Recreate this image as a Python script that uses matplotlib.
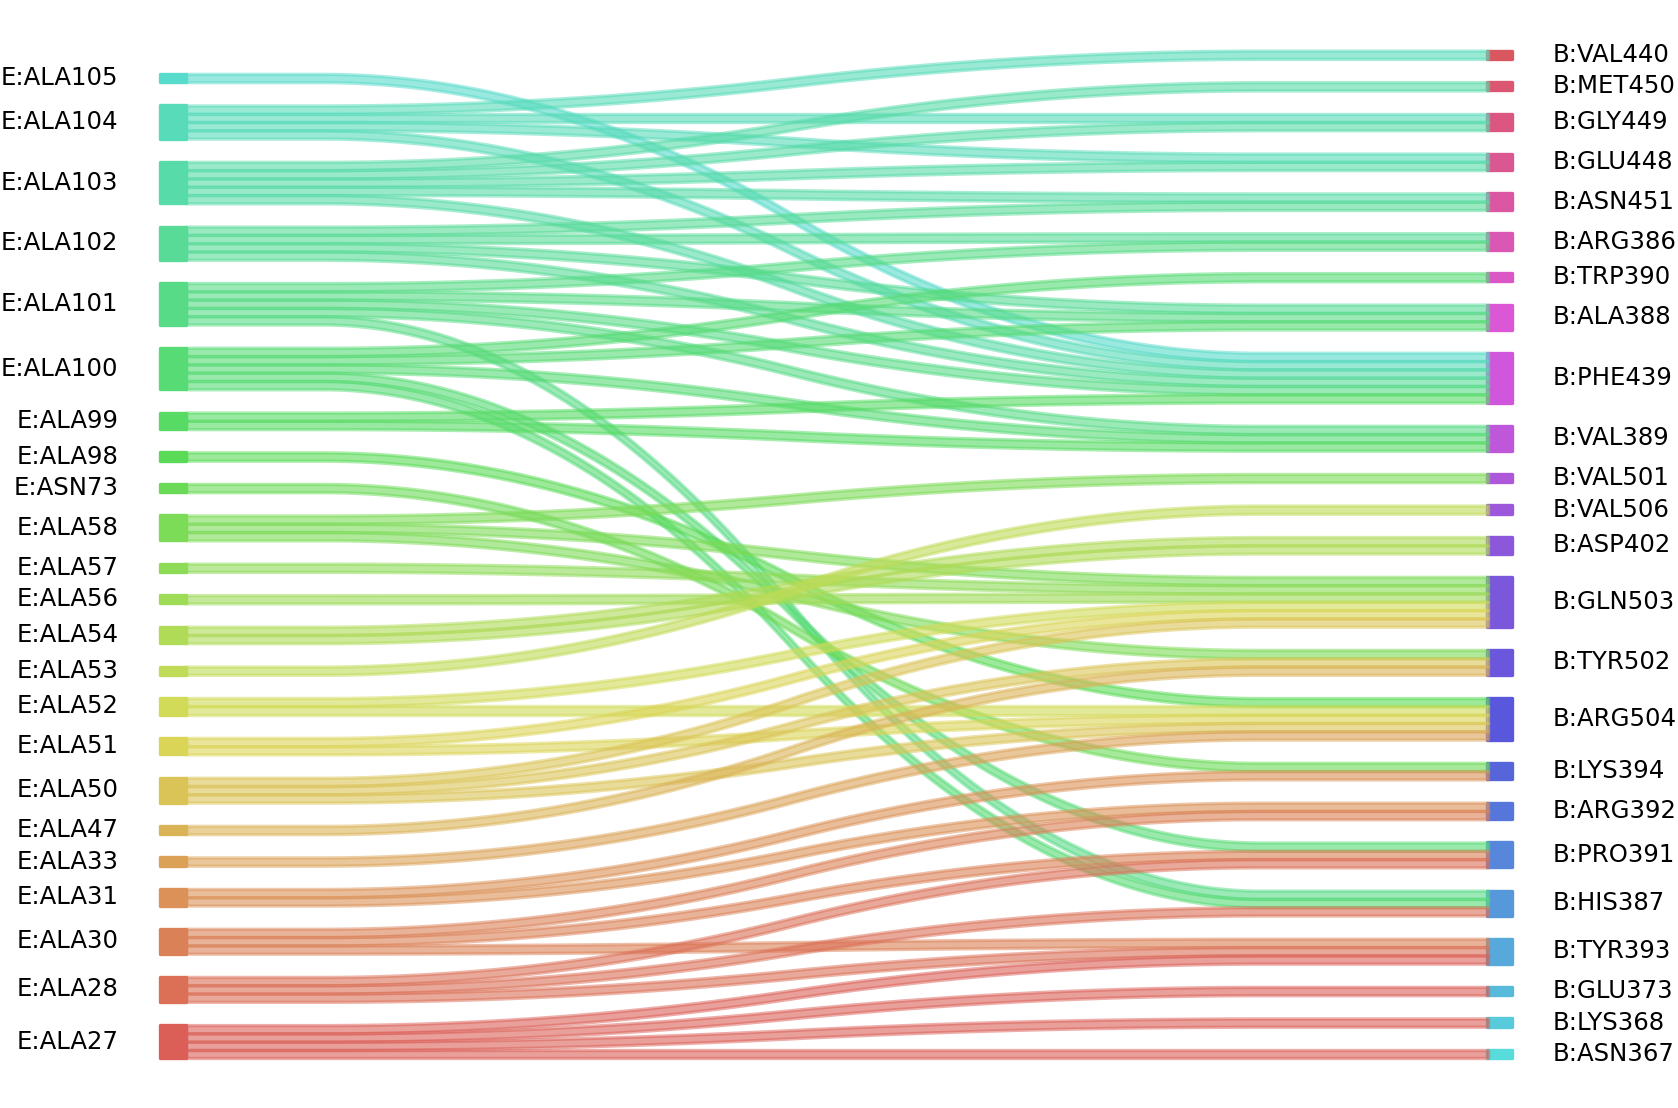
import colorsys

import numpy as np
import matplotlib
matplotlib.use("Agg")
import matplotlib.pyplot as plt
from matplotlib.patches import Rectangle

# residues of chain E (left) and chain B (right), top to bottom
left_labels = [
    "E:ALA105", "E:ALA104", "E:ALA103", "E:ALA102", "E:ALA101", "E:ALA100",
    "E:ALA99", "E:ALA98", "E:ASN73", "E:ALA58", "E:ALA57", "E:ALA56",
    "E:ALA54", "E:ALA53", "E:ALA52", "E:ALA51", "E:ALA50", "E:ALA47",
    "E:ALA33", "E:ALA31", "E:ALA30", "E:ALA28", "E:ALA27",
]
right_labels = [
    "B:VAL440", "B:MET450", "B:GLY449", "B:GLU448", "B:ASN451", "B:ARG386",
    "B:TRP390", "B:ALA388", "B:PHE439", "B:VAL389", "B:VAL501", "B:VAL506",
    "B:ASP402", "B:GLN503", "B:TYR502", "B:ARG504", "B:LYS394", "B:ARG392",
    "B:PRO391", "B:HIS387", "B:TYR393", "B:GLU373", "B:LYS368", "B:ASN367",
]

# contacts, one unit each
contacts = {
    "E:ALA105": ["B:PHE439"],
    "E:ALA104": ["B:VAL440", "B:GLY449", "B:GLU448", "B:PHE439"],
    "E:ALA103": ["B:MET450", "B:GLY449", "B:GLU448", "B:ASN451", "B:PHE439"],
    "E:ALA102": ["B:ASN451", "B:ARG386", "B:ALA388", "B:PHE439"],
    "E:ALA101": ["B:ARG386", "B:ALA388", "B:PHE439", "B:VAL389", "B:HIS387"],
    "E:ALA100": ["B:TRP390", "B:ALA388", "B:VAL389", "B:PRO391", "B:HIS387"],
    "E:ALA99": ["B:PHE439", "B:VAL389"],
    "E:ALA98": ["B:ARG504"],
    "E:ASN73": ["B:LYS394"],
    "E:ALA58": ["B:VAL501", "B:GLN503", "B:TYR502"],
    "E:ALA57": ["B:GLN503"],
    "E:ALA56": ["B:GLN503"],
    "E:ALA54": ["B:ASP402", "B:ASP402"],
    "E:ALA53": ["B:VAL506"],
    "E:ALA52": ["B:GLN503", "B:ARG504"],
    "E:ALA51": ["B:GLN503", "B:ARG504"],
    "E:ALA50": ["B:GLN503", "B:TYR502", "B:ARG504"],
    "E:ALA47": ["B:TYR502"],
    "E:ALA33": ["B:ARG504"],
    "E:ALA31": ["B:LYS394", "B:ARG392"],
    "E:ALA30": ["B:ARG392", "B:PRO391", "B:TYR393"],
    "E:ALA28": ["B:PRO391", "B:HIS387", "B:TYR393"],
    "E:ALA27": ["B:TYR393", "B:GLU373", "B:LYS368", "B:ASN367"],
}

GAP = 2.8
X_LEFT_NODE = (159.7, 186.3)
X_RIGHT_NODE = (1487.0, 1512.0)
X_RIBBON = (186.0, 1488.0)
X_BEND = (323.0, 1260.0)
LW = 2.4
FONT = 17.6


def hls_colors(n, h=0.01, l=0.6, s=0.65):
    hues = (np.linspace(0, 1, n + 1)[:-1] + h) % 1
    return [colorsys.hls_to_rgb(hh, l, s) for hh in hues]


def stack(labels, sizes):
    pos = {}
    y = 0.0
    for lab in reversed(labels):
        pos[lab] = [y, y + sizes[lab]]
        y += sizes[lab] + GAP
    return pos


def main():
    links = [(src, dst) for src in left_labels for dst in contacts[src]]
    left_size = {lab: 0 for lab in left_labels}
    right_size = {lab: 0 for lab in right_labels}
    for src, dst in links:
        left_size[src] += 1
        right_size[dst] += 1

    left_pos = stack(left_labels, left_size)
    right_pos = stack(right_labels, right_size)

    # colours: hls palette over all residues, bottom-left upwards then right side bottom-up
    order = list(reversed(left_labels)) + list(reversed(right_labels))
    pal = hls_colors(len(order))
    color = {lab: pal[i] for i, lab in enumerate(order)}

    # slot of each link inside its nodes
    r_index = {lab: i for i, lab in enumerate(right_labels)}
    l_index = {lab: i for i, lab in enumerate(left_labels)}
    left_next = {lab: left_pos[lab][1] for lab in left_labels}
    right_next = {lab: right_pos[lab][1] for lab in right_labels}
    slots = []
    for src in left_labels:
        for dst in sorted(contacts[src], key=lambda d: r_index[d]):
            slots.append([src, dst, left_next[src], None])
            left_next[src] -= 1
    for dst in right_labels:
        incoming = [sl for sl in slots if sl[1] == dst]
        incoming.sort(key=lambda sl: l_index[sl[0]])
        for sl in incoming:
            sl[3] = right_next[dst]
            right_next[dst] -= 1

    fig = plt.figure(figsize=(16.78, 11.08), dpi=100)
    ax = fig.add_axes([0, 0, 1, 1])
    ax.set_xlim(0, 1678)
    ax.set_ylim(-5.99, 127.5)
    ax.axis("off")

    x = np.linspace(X_RIBBON[0], X_RIBBON[1], 400)
    t = np.clip((x - X_BEND[0]) / (X_BEND[1] - X_BEND[0]), 0, 1)
    s = np.where(t < 0.5, 2 * t ** 2, 1 - 2 * (1 - t) ** 2)

    for src, dst, yl, yr in slots:
        c = color[src]
        top = yl + (yr - yl) * s
        ax.fill_between(x, top - 1, top, facecolor=(*c, 0.6),
                        edgecolor=(*c, 0.5), linewidth=LW, zorder=2)

    for lab in left_labels:
        y0, y1 = left_pos[lab]
        ax.add_patch(Rectangle((X_LEFT_NODE[0], y0), X_LEFT_NODE[1] - X_LEFT_NODE[0], y1 - y0,
                               facecolor=color[lab], edgecolor=color[lab], linewidth=LW,
                               joinstyle="round", zorder=3))
        ax.text(118.5, (y0 + y1) / 2, lab, ha="right", va="center", fontsize=FONT)

    for lab in right_labels:
        y0, y1 = right_pos[lab]
        ax.add_patch(Rectangle((X_RIGHT_NODE[0], y0), X_RIGHT_NODE[1] - X_RIGHT_NODE[0], y1 - y0,
                               facecolor=color[lab], edgecolor=color[lab], linewidth=LW,
                               joinstyle="round", zorder=1))
        ax.text(1553, (y0 + y1) / 2, lab, ha="left", va="center", fontsize=FONT)

    fig.savefig("out.png", dpi=100)
    plt.close(fig)


if __name__ == "__main__":
    main()
